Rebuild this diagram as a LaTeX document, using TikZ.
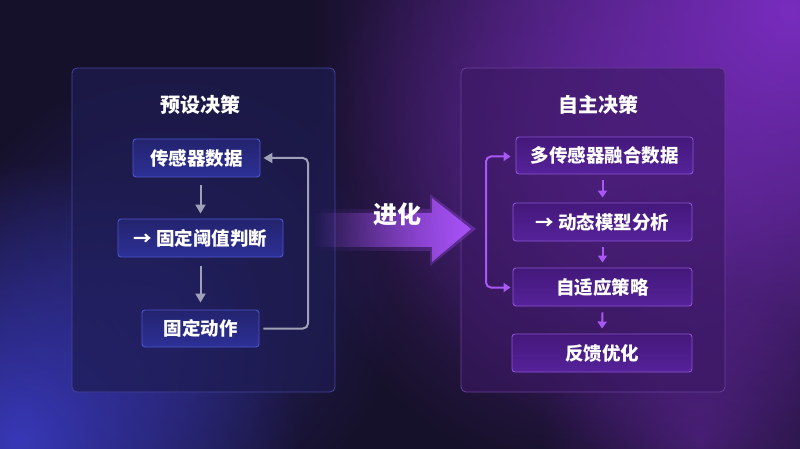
\documentclass[tikz,border=0pt]{standalone}
\usepackage{fontspec}
\setmainfont{Noto Sans CJK SC}
\usetikzlibrary{arrows.meta,fadings,calc}
\definecolor{bgbase}{HTML}{16112A}
\definecolor{glowpurple}{HTML}{7E2EC6}
\definecolor{glowblue}{HTML}{3838B8}
\definecolor{lpanelfill}{HTML}{1E1C52}
\definecolor{lpaneldraw}{HTML}{44449C}
\definecolor{rpanelfill}{HTML}{3A1862}
\definecolor{rpaneldraw}{HTML}{6A3F9C}
\definecolor{lboxtop}{HTML}{23236E}
\definecolor{lboxbot}{HTML}{2D3096}
\definecolor{lboxdraw}{HTML}{4E54CC}
\definecolor{rboxtop}{HTML}{43187A}
\definecolor{rboxbot}{HTML}{56229A}
\definecolor{rboxdraw}{HTML}{8A55D2}
\definecolor{garrow}{HTML}{A0A1B8}
\definecolor{parrow}{HTML}{A858F4}
\definecolor{bigarrow}{HTML}{A852F8}
\tikzfading[name=fadefromleft, left color=transparent!100, right color=transparent!0]
\tikzfading[name=radglow, inner color=transparent!0, outer color=transparent!100]
\tikzset{
  lpanel/.style={fill=lpanelfill, fill opacity=0.7, draw=lpaneldraw, line width=0.8pt, rounded corners=5pt},
  rpanel/.style={fill=rpanelfill, fill opacity=0.6, draw=rpaneldraw, line width=0.8pt, rounded corners=5pt},
  title/.style={text=white, font=\fontsize{20}{23}\selectfont\bfseries},
  lbox/.style={draw=lboxdraw, line width=0.9pt, rounded corners=3pt, top color=lboxtop, bottom color=lboxbot, text=white, font=\fontsize{18.5}{21}\selectfont\bfseries, inner sep=0pt},
  rbox/.style={draw=rboxdraw, line width=0.9pt, rounded corners=3pt, top color=rboxtop, bottom color=rboxbot, text=white, font=\fontsize{18.5}{21}\selectfont\bfseries, inner sep=0pt},
  garr/.style={draw=garrow, line width=2pt, -{Triangle[width=10pt,length=9pt]}},
  parr/.style={draw=parrow, line width=2pt, -{Triangle[width=9pt,length=7pt]}},
}
\begin{document}
\begin{tikzpicture}[x=1pt,y=-1pt]
\useasboundingbox (0,0) rectangle (800,449);
% background
\fill[bgbase] (0,0) rectangle (800,449);
\begin{scope}
\clip (0,0) rectangle (800,449);
\fill[glowpurple, path fading=radglow, opacity=0.95] (790,10) circle (480);
\fill[glowpurple, path fading=radglow, opacity=0.5] (600,180) circle (300);
\fill[glowblue, path fading=radglow, opacity=1] (20,440) circle (280);
\fill[glowblue, path fading=radglow, opacity=0.45] (170,300) circle (230);
\fill[glowpurple, path fading=radglow, opacity=0.4] (700,440) circle (160);
\end{scope}
% panels
\node[lpanel, minimum width=263pt, minimum height=324pt, inner sep=0pt] (lp) at (203.5,230) {};
\node[rpanel, minimum width=264pt, minimum height=324pt, inner sep=0pt] (rp) at (593,230) {};
\node[title] (lt) at (200,105) {预设决策};
\node[title] (rt) at (598,105) {自主决策};
% left boxes
\node[lbox, minimum width=127pt, minimum height=38pt] (b1) at (196.5,158) {传感器数据};
\node[lbox, minimum width=165pt, minimum height=38pt] (b2) at (200.5,238) {→ 固定阈值判断};
\node[lbox, minimum width=117pt, minimum height=37pt] (b3) at (200.5,328.5) {固定动作};
\draw[garr] ($(b2.north |- b1.south)+(0,8)$) -- ($(b2.north)+(0,-5)$);
\draw[garr] ($(b2.south)+(0,9)$) -- ($(b3.north)+(0,-7)$);
\coordinate (fbc) at (308,158);
\draw[garr, rounded corners=5pt] ($(b3.east)+(4,0)$) -| (fbc) -- ($(b1.east)+(3,0)$);
% big arrow
\fill[bigarrow, path fading=fadefromleft, opacity=0.35] (312,209) -- (430,209) -- (430,194) -- (476,229) -- (430,266) -- (430,251) -- (312,251) -- cycle;
\fill[bigarrow, path fading=fadefromleft] (312,213) -- (432,213) -- (432,198) -- (471,229) -- (432,262) -- (432,247) -- (312,247) -- cycle;
\node[text=white, font=\fontsize{24}{26}\selectfont\bfseries] (evo) at (397,214) {进化};
% right boxes
\node[rbox, minimum width=177pt, minimum height=37pt] (r1) at (604.5,155.5) {多传感器融合数据};
\node[rbox, minimum width=179pt, minimum height=38pt] (r2) at (602.5,222) {→ 动态模型分析};
\node[rbox, minimum width=179pt, minimum height=38pt] (r3) at (602.5,287) {自适应策略};
\node[rbox, minimum width=180pt, minimum height=38pt] (r4) at (602,353) {反馈优化};
\draw[parr] ($(r2.north |- r1.south)+(0,6)$) -- ($(r2.north)+(0,-5)$);
\draw[parr] ($(r2.south)+(0,6)$) -- ($(r3.north)+(0,-5)$);
\draw[parr] ($(r3.south)+(0,6)$) -- ($(r4.north)+(0,-5)$);
\coordinate (bt) at (486,156.5);
\coordinate (bb) at (486,287.5);
\draw[parr, {Triangle[width=9pt,length=7pt]}-{Triangle[width=9pt,length=7pt]}, rounded corners=5pt] ($(r1.west)+(-5,1)$) -- (bt) -- (bb) -- ($(r3.west)+(-2,0.5)$);
\end{tikzpicture}
\end{document}
